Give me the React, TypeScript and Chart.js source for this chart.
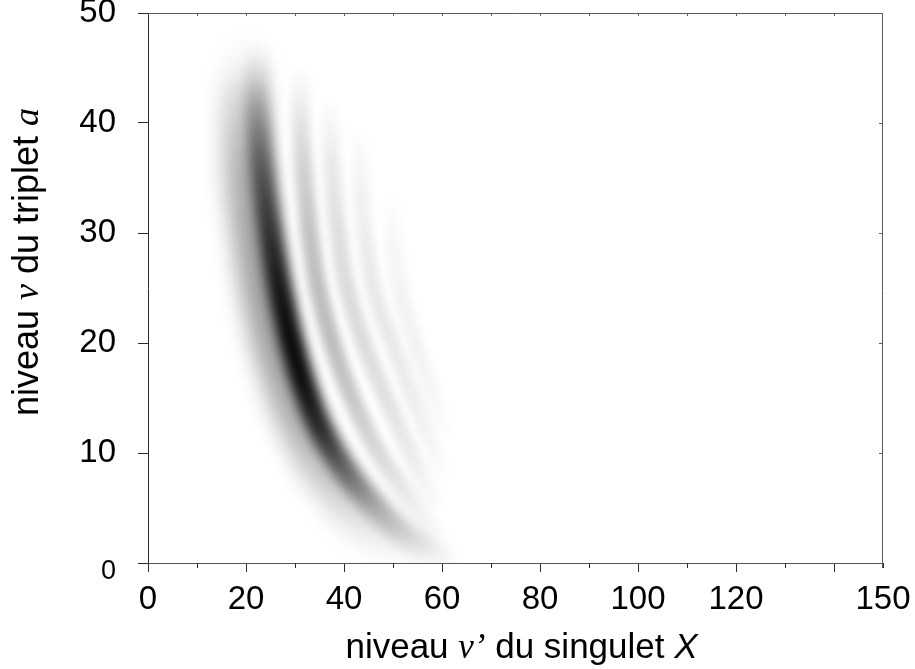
import React, { useEffect, useRef } from 'react';
import { Chart, registerables } from 'chart.js';

Chart.register(...registerables);

// ---------- axes ----------
const X_MIN = 0;
const X_MAX = 150;
const Y_MIN = 0;
const Y_MAX = 50;
const X_TICK_LABELED = [0, 20, 40, 60, 80, 100, 120, 150];
const X_TICK_LONG = [0, 20, 40, 60, 80, 100, 120, 140];
const X_TICK_SHORT = [10, 30, 50, 70, 90, 110, 130, 150];
const X_TICK_TOP = [10, 20, 30, 40, 50, 60, 70, 80, 90, 100, 110, 120, 130, 140];
const Y_TICK_RIGHT = [10, 20, 30, 40];
const Y_ZERO_LABEL = '0';

// ---------- titles (runs of text with their own font style) ----------
const X_TITLE_TEXT = ['niveau ', 'v', '’', ' du singulet ', 'X'];
const X_TITLE_STYLE = ['sans', 'serifItalic', 'serifItalic', 'sans', 'sansItalic'];
const Y_TITLE_TEXT = ['niveau ', 'v', ' du triplet ', 'a'];
const Y_TITLE_STYLE = ['sans', 'serifItalic', 'sans', 'serifItalic'];

// ---------- intensity bands (ridge v, v', darkness 0..1) ----------
const mainV = [46.5, 44, 40, 36, 32, 28, 24, 20, 16, 12, 8, 5, 2, 0.3];
const mainVp = [22.5, 22.4, 22.7, 23.4, 24.4, 25.7, 27.3, 29.3, 31.9, 35.4, 40.8, 46.5, 53.5, 60];
const mainDark = [0.02, 0.12, 0.36, 0.55, 0.68, 0.8, 0.9, 0.95, 0.92, 0.78, 0.5, 0.27, 0.1, 0.02];

const haloV = [45.5, 42, 36, 30, 24, 18, 12, 7, 3, 0.5];
const haloVp = [20.2, 19.8, 20.3, 21.8, 24, 27.2, 32, 38.5, 46.5, 56];
const haloDark = [0.03, 0.18, 0.32, 0.36, 0.38, 0.36, 0.3, 0.2, 0.09, 0.02];

const band2V = [44, 40, 36, 30, 25, 20, 15, 10, 6, 2.5];
const band2Vp = [31, 31.2, 31.7, 33, 34.7, 37.6, 41.6, 47, 53, 58.5];
const band2Dark = [0.02, 0.11, 0.18, 0.24, 0.26, 0.26, 0.22, 0.15, 0.08, 0.02];

const band3V = [41, 36, 30, 25, 20, 15, 10, 5.5];
const band3Vp = [37, 37.5, 38.8, 40.6, 44, 48.5, 53.5, 58];
const band3Dark = [0.02, 0.09, 0.13, 0.14, 0.14, 0.12, 0.08, 0.02];

const band4V = [38, 33, 28, 24, 20, 15, 11, 8];
const band4Vp = [43, 43.5, 44.8, 46.6, 49.8, 54, 57.5, 59.5];
const band4Dark = [0.02, 0.06, 0.08, 0.09, 0.09, 0.07, 0.04, 0.01];

const band5V = [32.5, 28, 24, 20, 16, 12];
const band5Vp = [49.6, 50.3, 51.8, 54.5, 57.5, 60];
const band5Dark = [0.01, 0.04, 0.05, 0.05, 0.04, 0.01];

// ---------- styles ----------
const AXIS_COLOR = '#2a2a2a';
const FRAME_COLOR = '#5a5a5a';
const SANS = "'Liberation Sans', Arial, sans-serif";
const SERIF = "'Liberation Serif', 'DejaVu Serif', serif";
const TICK_SIZE = 33;
const TITLE_SIZE = 35;

function runFont(style: string, size: number) {
  if (style === 'serifItalic') return `italic ${size}px ${SERIF}`;
  if (style === 'sansItalic') return `italic ${size}px ${SANS}`;
  return `${size}px ${SANS}`;
}

function bandGradient(chart: any, vs: number[], darks: number[]) {
  const ys = chart.scales && chart.scales.y;
  if (!ys || !chart.chartArea) return 'rgba(0,0,0,0)';
  const p0 = ys.getPixelForValue(Y_MIN);
  const p1 = ys.getPixelForValue(Y_MAX);
  const g = chart.ctx.createLinearGradient(0, p0, 0, p1);
  vs.forEach((v, i) => {
    const t = Math.min(1, Math.max(0, (v - Y_MIN) / (Y_MAX - Y_MIN)));
    g.addColorStop(t, `rgba(0,0,0,${darks[i]})`);
  });
  return g;
}

function bandDataset(vs: number[], vps: number[], darks: number[], width: number, blur: number) {
  return {
    type: 'line',
    data: vs.map((v, i) => ({ x: vps[i], y: v })),
    borderColor: (c: any) => bandGradient(c.chart, vs, darks),
    borderWidth: width,
    borderCapStyle: 'round',
    pointRadius: 0,
    pointHoverRadius: 0,
    tension: 0.4,
    fill: false,
    blurPx: blur,
  };
}

const blurPlugin = {
  id: 'bandBlur',
  beforeDatasetDraw(chart: any, args: any) {
    const ds = chart.data.datasets[args.index];
    chart.ctx.save();
    chart.ctx.filter = `blur(${ds.blurPx || 0}px)`;
  },
  afterDatasetDraw(chart: any) {
    chart.ctx.restore();
  },
};

function drawRuns(ctx: CanvasRenderingContext2D, texts: string[], styles: string[], size: number) {
  const widths = texts.map((t, i) => {
    ctx.font = runFont(styles[i], size);
    return ctx.measureText(t).width;
  });
  const total = widths.reduce((a, b) => a + b, 0);
  let x = -total / 2;
  texts.forEach((t, i) => {
    ctx.font = runFont(styles[i], size);
    ctx.fillText(t, x, 0);
    x += widths[i];
  });
}

const framePlugin = {
  id: 'frameAndTitles',
  afterDraw(chart: any) {
    const { ctx, chartArea: a, scales } = chart;
    const xs = scales.x;
    const ys = scales.y;
    ctx.save();
    // top and right frame
    ctx.strokeStyle = FRAME_COLOR;
    ctx.lineWidth = 1;
    ctx.beginPath();
    ctx.moveTo(a.left, Math.round(a.top) + 0.5);
    ctx.lineTo(a.right, Math.round(a.top) + 0.5);
    ctx.moveTo(Math.round(a.right) - 0.5, a.top);
    ctx.lineTo(Math.round(a.right) - 0.5, a.bottom + 5);
    X_TICK_TOP.forEach((v) => {
      const px = Math.round(xs.getPixelForValue(v)) + 0.5;
      ctx.moveTo(px, a.top);
      ctx.lineTo(px, a.top + 3);
    });
    Y_TICK_RIGHT.forEach((v) => {
      const py = Math.round(ys.getPixelForValue(v)) + 0.5;
      ctx.moveTo(a.right, py);
      ctx.lineTo(a.right - 4, py);
    });
    ctx.stroke();
    // short bottom ticks
    ctx.strokeStyle = AXIS_COLOR;
    ctx.beginPath();
    X_TICK_SHORT.forEach((v) => {
      const px = Math.round(xs.getPixelForValue(v)) + 0.5;
      ctx.moveTo(px, a.bottom);
      ctx.lineTo(px, a.bottom + 5);
    });
    ctx.stroke();

    // y zero label (smaller and set a little lower in the reference)
    ctx.fillStyle = '#000';
    ctx.font = `27px ${SANS}`;
    ctx.textAlign = 'right';
    ctx.textBaseline = 'middle';
    ctx.fillText(Y_ZERO_LABEL, 116, ys.getPixelForValue(0) + 9);

    // titles
    ctx.textBaseline = 'alphabetic';
    ctx.textAlign = 'left';
    ctx.save();
    ctx.translate((a.left + a.right) / 2 + 6, 658);
    drawRuns(ctx, X_TITLE_TEXT, X_TITLE_STYLE, TITLE_SIZE);
    ctx.restore();
    ctx.save();
    ctx.translate(38, 262);
    ctx.rotate(-Math.PI / 2);
    drawRuns(ctx, Y_TITLE_TEXT, Y_TITLE_STYLE, 36);
    ctx.restore();
    ctx.restore();
  },
};

export default function App() {
  const ref = useRef<HTMLCanvasElement>(null);
  useEffect(() => {
    const canvas = ref.current;
    if (!canvas) return;
    const datasets: any[] = [
      bandDataset(mainV, mainVp, mainDark, 24, 6),
      bandDataset(haloV, haloVp, haloDark, 44, 11),
      bandDataset(band2V, band2Vp, band2Dark, 18, 4),
      bandDataset(band3V, band3Vp, band3Dark, 17, 4),
      bandDataset(band4V, band4Vp, band4Dark, 16, 4),
      bandDataset(band5V, band5Vp, band5Dark, 16, 4),
    ];
    const chart = new Chart(canvas, {
      type: 'line',
      data: { datasets },
      plugins: [blurPlugin, framePlugin],
      options: {
        responsive: false,
        animation: false,
        events: [],
        layout: { padding: { top: 13, right: 32, left: 0, bottom: 0 } },
        plugins: { legend: { display: false }, tooltip: { enabled: false }, title: { display: false } },
        scales: {
          x: {
            type: 'linear',
            min: X_MIN,
            max: X_MAX,
            afterFit: (s: any) => {
              s.height = 106;
              s.paddingLeft = 0;
              s.paddingRight = 0;
            },
            afterBuildTicks: (s: any) => {
              s.ticks = [...X_TICK_LONG, ...X_TICK_LABELED]
                .filter((v, i, arr) => arr.indexOf(v) === i)
                .sort((p, q) => p - q)
                .map((v) => ({ value: v }));
            },
            ticks: {
              autoSkip: false,
              maxRotation: 0,
              padding: 8,
              color: '#000',
              font: { family: SANS, size: TICK_SIZE },
              callback: (v: any) => (X_TICK_LABELED.includes(v) ? String(v) : ''),
            },
            grid: {
              drawOnChartArea: false,
              drawTicks: true,
              tickLength: 9,
              color: (c: any) => (c.tick && X_TICK_LONG.includes(c.tick.value) ? AXIS_COLOR : 'rgba(0,0,0,0)'),
            },
            border: { display: true, color: '#555', width: 1 },
          },
          y: {
            type: 'linear',
            min: Y_MIN,
            max: Y_MAX,
            afterFit: (s: any) => {
              s.width = 148;
              s.paddingTop = 0;
              s.paddingBottom = 0;
            },
            ticks: {
              stepSize: 10,
              padding: 22,
              color: '#000',
              font: { family: SANS, size: TICK_SIZE },
              callback: (v: any) => (v === 0 ? '' : String(v)),
            },
            grid: {
              drawOnChartArea: false,
              drawTicks: true,
              tickLength: 10,
              color: AXIS_COLOR,
            },
            border: { display: true, color: AXIS_COLOR, width: 1 },
          },
        },
      } as any,
    } as any);
    return () => chart.destroy();
  }, []);
  return (
    <div style={{ position: 'fixed', left: 0, top: 0, width: 915, height: 669, background: '#fff' }}>
      <canvas ref={ref} width={915} height={669} />
    </div>
  );
}
